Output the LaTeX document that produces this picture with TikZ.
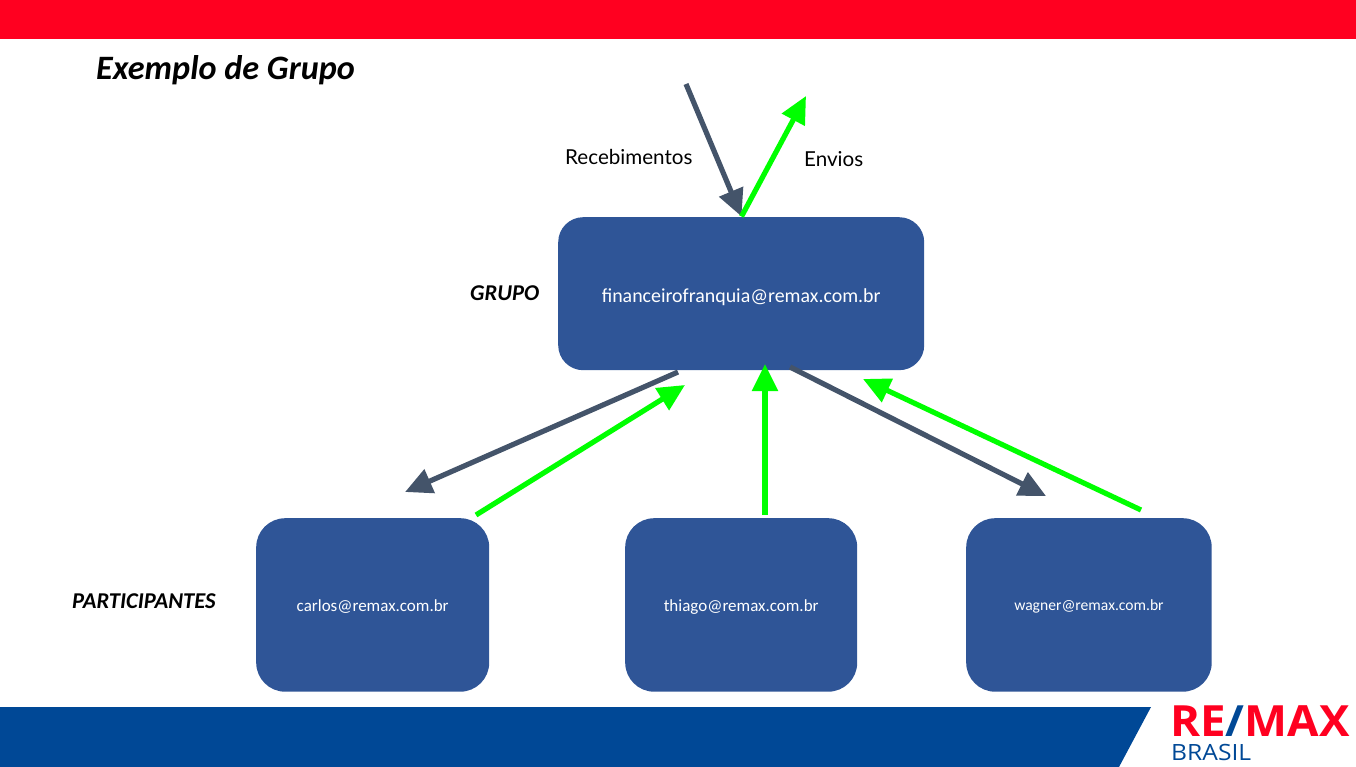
\documentclass[tikz,border=0pt]{standalone}
\usepackage{fontspec}
\setmainfont{Carlito}
\newfontfamily\handfont{Lato}
\newfontfamily\logofont{Open Sans}
\usetikzlibrary{arrows.meta}
\definecolor{boxblue}{HTML}{2F5597}
\definecolor{slategray}{HTML}{44546A}
\definecolor{brightgreen}{HTML}{00FF00}
\definecolor{topred}{HTML}{FF0020}
\definecolor{bandblue}{HTML}{004896}
\tikzset{
  x=1pt,y=-1pt,
  mailbox/.style={fill=boxblue,draw=none,rounded corners=#1,text=white,inner sep=0pt,anchor=north west},
  recv/.style={draw=slategray,line width=5.2pt,-{Triangle[length=27pt,width=25pt]}},
  send/.style={draw=brightgreen,line width=5.2pt,-{Triangle[length=27pt,width=25pt]}},
  rolelabel/.style={font=\fontsize{22.6}{24}\selectfont\bfseries\itshape,inner sep=0pt},
  handlabel/.style={font=\handfont\fontsize{20.6}{22}\selectfont,inner sep=0pt},
}
\begin{document}
\begin{tikzpicture}
\useasboundingbox (0,0) rectangle (1356,767);
\fill[topred] (0,0) rectangle (1356,39.5);
\fill[bandblue] (0,707) -- (1151,707) -- (1119,767) -- (0,767) -- cycle;

\node[mailbox=25pt,minimum width=366pt,minimum height=153pt,font=\fontsize{19.9}{22}\selectfont] (grupo) at (558,217) {\smash{\raisebox{-9pt}{financeirofranquia@remax.com.br}}};
\node[mailbox=29pt,minimum width=233pt,minimum height=173.5pt,font=\fontsize{17}{20}\selectfont] (carlos) at (256,518) {\smash{\raisebox{-6.5pt}{carlos@remax.com.br}}};
\node[mailbox=29pt,minimum width=232pt,minimum height=173.5pt,font=\fontsize{17}{20}\selectfont] (thiago) at (625,518) {\smash{\raisebox{-6.5pt}{thiago@remax.com.br}}};
\node[mailbox=29pt,minimum width=245.5pt,minimum height=173.5pt,font=\fontsize{15.6}{20}\selectfont] (wagner) at (966,518) {\smash{\raisebox{-6pt}{wagner@remax.com.br}}};

\node[anchor=west,font=\fontsize{34.2}{36}\selectfont\bfseries\itshape,inner sep=0pt] (titulo) at (96,70) {Exemplo de Grupo};
\node[rolelabel,anchor=west] (lgrupo) at (470,293) {GRUPO};
\node[rolelabel,anchor=west] (lpart) at (72,601) {PARTICIPANTES};
\node[handlabel,anchor=west] (lrec) at (565,157) {Recebimentos};
\node[handlabel,anchor=west] (lenv) at (804,159) {Envios};

\coordinate (recvtop) at (686,84);
\coordinate (sendtop) at (806,96);
\coordinate (grupotop) at (741.5,216.5);
\coordinate (grupoa) at (678,372);
\coordinate (carlosin) at (405,492);
\coordinate (carlosout) at (476,515);
\coordinate (grupob) at (685,385);
\coordinate (thiagoout) at (765,515);
\coordinate (grupoc) at (765,364);
\coordinate (grupod) at (790,367);
\coordinate (wagnerin) at (1046,496);
\coordinate (wagnerout) at (1141,510);
\coordinate (grupoe) at (863,379);

\draw[recv] (recvtop) -- (grupotop);
\draw[send] (grupotop) -- (sendtop);
\draw[recv] (grupoa) -- (carlosin);
\draw[send] (carlosout) -- (grupob);
\draw[send] (thiagoout) -- (grupoc);
\draw[recv] (grupod) -- (wagnerin);
\draw[send] (wagnerout) -- (grupoe);

\node[anchor=south west,inner sep=0pt,text depth=0pt,text height=31pt,xscale=1.06,font=\logofont\bfseries\fontsize{43}{44}\selectfont,text=topred] (logo) at (1170,737) {RE\textcolor{bandblue}{/}MAX};
\node[anchor=south west,inner sep=0pt,text depth=0pt,text height=16pt,xscale=1.1,font=\logofont\fontsize{22.4}{24}\selectfont,text=bandblue] (brasil) at (1171,761) {BRASIL};
\end{tikzpicture}
\end{document}
